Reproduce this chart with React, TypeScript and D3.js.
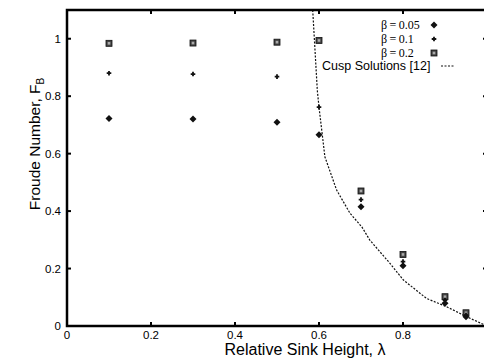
// Froude number vs relative sink height, with cusp solution curve
import React from 'react';
import * as d3 from 'd3';

const lambdas = [0.1, 0.3, 0.5, 0.6, 0.7, 0.8, 0.9, 0.95];
const beta005 = [0.722, 0.721, 0.709, 0.666, 0.415, 0.21, 0.079, 0.032];
const beta01 = [0.88, 0.877, 0.868, 0.762, 0.44, 0.224, 0.09, 0.038];
const beta02 = [0.984, 0.985, 0.988, 0.994, 0.47, 0.249, 0.102, 0.046];

const cuspLambda = [0.585, 0.596, 0.6, 0.614, 0.642, 0.674, 0.702, 0.721, 0.769, 0.801, 0.856, 0.904, 0.952, 1.0];
const cuspF = [1.1, 0.82, 0.762, 0.589, 0.473, 0.392, 0.345, 0.299, 0.218, 0.16, 0.096, 0.067, 0.032, 0];

const xTicks = [0, 0.2, 0.4, 0.6, 0.8];
const yTicks = [0, 0.2, 0.4, 0.6, 0.8, 1];

const sans = '"Liberation Sans", Arial, sans-serif';
const serif = '"Liberation Serif", "Times New Roman", serif';

const Diamond = ({ x, y }: { x: number; y: number }) => (
    <path d={`M${x},${y - 3.5}L${x + 3.5},${y}L${x},${y + 3.5}L${x - 3.5},${y}Z`} fill="#111" />
);

const Plus = ({ x, y }: { x: number; y: number }) => (
    <path d={`M${x - 2.3},${y}H${x + 2.3}M${x},${y - 2.3}V${y + 2.3}`} stroke="#111" strokeWidth={1.8} />
);

const Square = ({ x, y }: { x: number; y: number }) => (
    <g>
        <rect x={x - 3} y={y - 3} width={6} height={6} fill="#444" stroke="#111" strokeWidth={0.8} />
        <rect x={x - 1.3} y={y - 1.3} width={2.6} height={2.6} fill="#aaa" />
    </g>
);

export default function App() {
    const W = 484, H = 362;
    const left = 67, top = 10, bottom = 326;
    const x = d3.scaleLinear().domain([0, 1]).range([left, left + 420]);
    const y = d3.scaleLinear().domain([0, 1.1]).range([bottom, top]);
    const right = x(1);

    const cuspLine = d3.line<number>()
        .x((_, i) => x(cuspLambda[i]))
        .y(d => y(d))(cuspF) || '';

    return (
        <svg width={W} height={H} style={{ position: 'absolute', left: 0, top: 0, background: '#fff' }}>
            <defs>
                <clipPath id="plot"><rect x={left} y={top} width={right - left} height={bottom - top} /></clipPath>
            </defs>

            {/* cusp solutions */}
            <path d={cuspLine} fill="none" stroke="#111" strokeWidth={1.2} strokeDasharray="2,1.5" clipPath="url(#plot)" />

            {lambdas.map((l, i) => (
                <g key={'p' + i}>
                    <Square x={x(l)} y={y(beta02[i])} />
                    <Plus x={x(l)} y={y(beta01[i])} />
                    <Diamond x={x(l)} y={y(beta005[i])} />
                </g>
            ))}

            {/* frame */}
            <rect x={left} y={top} width={right - left} height={bottom - top} fill="none" stroke="#000" strokeWidth={2.5} />

            {xTicks.map(t => (
                <g key={'xt' + t}>
                    <line x1={x(t)} x2={x(t)} y1={bottom} y2={bottom - 4} stroke="#000" strokeWidth={2} />
                    <line x1={x(t)} x2={x(t)} y1={top} y2={top + 4} stroke="#000" strokeWidth={2} />
                    <text x={x(t)} y={339} textAnchor="middle" fontFamily={sans} fontSize={11.5}>{String(t)}</text>
                </g>
            ))}
            {yTicks.map(t => (
                <g key={'yt' + t}>
                    <line x1={left} x2={left + 4} y1={y(t)} y2={y(t)} stroke="#000" strokeWidth={2} />
                    <line x1={right} x2={right - 4} y1={y(t)} y2={y(t)} stroke="#000" strokeWidth={2} />
                    <text x={61} y={y(t) + 4} textAnchor="end" fontFamily={sans} fontSize={11.5}>{String(t)}</text>
                </g>
            ))}

            {/* axis labels */}
            <text x={305} y={355} textAnchor="middle" fontFamily={sans} fontSize={16}>
                Relative Sink Height,  λ
            </text>
            <text transform="translate(40,144) rotate(-90)" textAnchor="middle" fontFamily={sans} fontSize={15.5}>
                Froude Number, F<tspan fontSize={10} dy={4}>B</tspan>
            </text>

            {/* legend */}
            <text x={381} y={29} fontFamily={serif} fontSize={12}>{'β\u2009=\u20090.05'}</text>
            <Diamond x={434} y={25} />
            <text x={381} y={43} fontFamily={serif} fontSize={12}>{'β\u2009=\u20090.1'}</text>
            <Plus x={434} y={39} />
            <text x={381} y={57} fontFamily={serif} fontSize={12}>{'β\u2009=\u20090.2'}</text>
            <Square x={434} y={53} />
            <text x={322} y={70} fontFamily={sans} fontSize={12.5}>Cusp Solutions [12]</text>
            <line x1={441} x2={454} y1={66} y2={66} stroke="#111" strokeWidth={1.2} strokeDasharray="2,1.5" />
        </svg>
    );
}
